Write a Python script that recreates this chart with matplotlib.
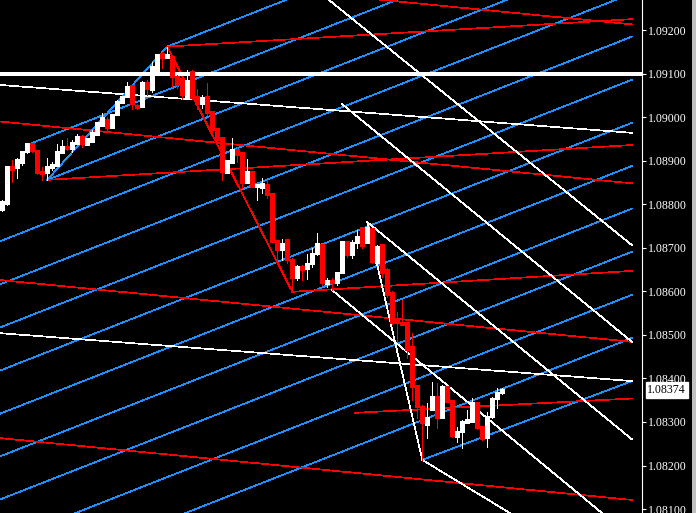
import matplotlib
matplotlib.use("Agg")
import matplotlib.pyplot as plt
import matplotlib.transforms as mtransforms
import numpy as np

# ---- datos de velas (EURUSD, una vela por barra) ----
open_ = [1.08787, 1.08801, 1.08886, 1.08883, 1.08895, 1.08920, 1.08938, 1.08922, 1.08874, 1.08872,
         1.08883, 1.08888, 1.08918, 1.08931, 1.08927, 1.08938, 1.08954, 1.08936, 1.08943, 1.08959,
         1.08980, 1.08993, 1.08975, 1.09005, 1.09032, 1.09046, 1.09072, 1.09026, 1.09023, 1.09078,
         1.09062, 1.09097, 1.09145, 1.09136, 1.09138, 1.09092, 1.09088, 1.09046, 1.09104, 1.09046,
         1.09030, 1.09046, 1.09012, 1.08973, 1.08952, 1.08872, 1.08895, 1.08925, 1.08918, 1.08849,
         1.08874, 1.08840, 1.08837, 1.08844, 1.08824, 1.08716, 1.08695, 1.08718, 1.08672, 1.08631,
         1.08656, 1.08651, 1.08663, 1.08686, 1.08706, 1.08617, 1.08624, 1.08619, 1.08642, 1.08713,
         1.08683, 1.08711, 1.08745, 1.08711, 1.08743, 1.08665, 1.08706, 1.08649, 1.08596, 1.08532,
         1.08527, 1.08527, 1.08472, 1.08383, 1.08334, 1.08293, 1.08328, 1.08357, 1.08309, 1.08380,
         1.08348, 1.08266, 1.08277, 1.08298, 1.08300, 1.08344, 1.08288, 1.08263, 1.08312, 1.08353,
         1.08367]
high = [1.08810, 1.08888, 1.08902, 1.08906, 1.08922, 1.08941, 1.08941, 1.08925, 1.08886, 1.08906,
        1.08897, 1.08938, 1.08947, 1.08952, 1.08947, 1.08961, 1.08959, 1.08952, 1.08971, 1.08989,
        1.09010, 1.09000, 1.09005, 1.09039, 1.09049, 1.09081, 1.09074, 1.09030, 1.09083, 1.09085,
        1.09127, 1.09143, 1.09150, 1.09162, 1.09143, 1.09097, 1.09090, 1.09108, 1.09108, 1.09065,
        1.09051, 1.09078, 1.09012, 1.08975, 1.08954, 1.08902, 1.08952, 1.08931, 1.08918, 1.08904,
        1.08874, 1.08844, 1.08860, 1.08856, 1.08824, 1.08716, 1.08720, 1.08720, 1.08677, 1.08661,
        1.08661, 1.08686, 1.08700, 1.08734, 1.08709, 1.08631, 1.08631, 1.08642, 1.08713, 1.08713,
        1.08718, 1.08741, 1.08748, 1.08759, 1.08743, 1.08706, 1.08706, 1.08654, 1.08601, 1.08553,
        1.08580, 1.08527, 1.08504, 1.08383, 1.08339, 1.08344, 1.08392, 1.08390, 1.08385, 1.08380,
        1.08350, 1.08288, 1.08305, 1.08328, 1.08355, 1.08346, 1.08288, 1.08323, 1.08357, 1.08378,
        1.08377]
low = [1.08784, 1.08798, 1.08851, 1.08860, 1.08890, 1.08918, 1.08920, 1.08869, 1.08856, 1.08856,
       1.08879, 1.08888, 1.08918, 1.08925, 1.08920, 1.08938, 1.08931, 1.08936, 1.08943, 1.08959,
       1.08980, 1.08971, 1.08975, 1.09005, 1.09032, 1.09046, 1.09019, 1.09019, 1.09023, 1.09051,
       1.09058, 1.09097, 1.09113, 1.09136, 1.09069, 1.09067, 1.09042, 1.09046, 1.09042, 1.09019,
       1.09021, 1.09005, 1.08959, 1.08936, 1.08856, 1.08872, 1.08895, 1.08897, 1.08837, 1.08849,
       1.08840, 1.08810, 1.08826, 1.08814, 1.08713, 1.08672, 1.08672, 1.08665, 1.08599, 1.08626,
       1.08626, 1.08628, 1.08656, 1.08683, 1.08615, 1.08610, 1.08603, 1.08615, 1.08642, 1.08679,
       1.08677, 1.08700, 1.08700, 1.08711, 1.08665, 1.08665, 1.08633, 1.08587, 1.08525, 1.08484,
       1.08523, 1.08447, 1.08350, 1.08309, 1.08213, 1.08263, 1.08328, 1.08286, 1.08309, 1.08346,
       1.08266, 1.08254, 1.08240, 1.08298, 1.08300, 1.08284, 1.08259, 1.08243, 1.08309, 1.08332,
       1.08364]
close = [1.08805, 1.08886, 1.08879, 1.08902, 1.08920, 1.08938, 1.08922, 1.08872, 1.08869, 1.08886,
         1.08890, 1.08920, 1.08931, 1.08927, 1.08941, 1.08954, 1.08938, 1.08950, 1.08964, 1.08987,
         1.08998, 1.08975, 1.09005, 1.09035, 1.09046, 1.09069, 1.09030, 1.09021, 1.09078, 1.09065,
         1.09115, 1.09143, 1.09136, 1.09143, 1.09092, 1.09074, 1.09051, 1.09083, 1.09044, 1.09030,
         1.09044, 1.09010, 1.08971, 1.08947, 1.08874, 1.08899, 1.08925, 1.08913, 1.08849, 1.08874,
         1.08840, 1.08844, 1.08847, 1.08821, 1.08713, 1.08695, 1.08709, 1.08672, 1.08631, 1.08656,
         1.08649, 1.08663, 1.08686, 1.08709, 1.08619, 1.08624, 1.08619, 1.08642, 1.08713, 1.08683,
         1.08711, 1.08725, 1.08704, 1.08745, 1.08667, 1.08702, 1.08642, 1.08592, 1.08527, 1.08527,
         1.08523, 1.08465, 1.08380, 1.08334, 1.08298, 1.08309, 1.08357, 1.08309, 1.08380, 1.08346,
         1.08268, 1.08277, 1.08300, 1.08305, 1.08344, 1.08286, 1.08261, 1.08312, 1.08353, 1.08367,
         1.08374]

precio_actual = 1.08374
nivel_horizontal = 1.09100
niveles_eje = [1.081, 1.082, 1.083, 1.084, 1.085, 1.086, 1.087, 1.088, 1.089, 1.090, 1.091, 1.092]

# ---- objetos dibujados: (barra inicio, precio inicio, barra fin, precio fin) ----
lineas_azules = [
    (33, 1.09162, 125.94, 1.09582),
    (6, 1.08941, 125.94, 1.09481),
    (9, 1.08856, 125.94, 1.09382),
    (-0.46, 1.08715, 125.94, 1.09284),
    (-0.46, 1.08616, 125.94, 1.09185),
    (-0.46, 1.08517, 125.94, 1.09086),
    (-0.46, 1.08418, 125.94, 1.08987),
    (-0.46, 1.08319, 125.94, 1.08888),
    (-0.46, 1.08221, 125.94, 1.08790),
    (-0.46, 1.08122, 125.94, 1.08691),
    (-0.46, 1.08023, 125.94, 1.08592),
    (-0.46, 1.07924, 125.94, 1.08493),
    (84, 1.08213, 125.94, 1.08394),
]
lineas_rojas = [
    (-0.46, 1.09355, 125.94, 1.09213),
    (-0.46, 1.08990, 125.94, 1.08848),
    (-0.46, 1.08626, 125.94, 1.08484),
    (-0.46, 1.08263, 125.94, 1.08121),
    (33, 1.09162, 125.94, 1.09225),
    (9, 1.08856, 125.94, 1.08936),
    (58, 1.08599, 125.94, 1.08647),
    (70.5, 1.08321, 125.94, 1.08354),
]
lineas_blancas = [
    (-0.46, 1.09074, 125.94, 1.08964),
    (-0.46, 1.08504, 125.94, 1.08394),
    (65.34, 1.09269, 125.94, 1.08706),
    (67.94, 1.09030, 125.94, 1.08484),
    (73, 1.08759, 125.94, 1.08260),
    (65.94, 1.08603, 125.94, 1.08034),
    (84, 1.08213, 101.5, 1.08091),
]
# zigzag entre pivotes
zigzag = [
    (9, 1.08856, 33, 1.09162, 'azul'),
    (33, 1.09162, 58, 1.08599, 'rojo'),
    (73, 1.08759, 84, 1.08213, 'blanco'),
]

AZUL = '#1E90FF'
ROJO = '#FF0000'
BLANCO = '#FFFFFF'
colores = {'azul': AZUL, 'rojo': ROJO, 'blanco': BLANCO}

fig = plt.figure(figsize=(6.96, 5.13), dpi=100, facecolor='black')
ax = fig.add_axes([0, 0, 642 / 696, 1])
ax.set_facecolor('black')

# borde gris de la ventana a la derecha
fig.patches.append(plt.Rectangle((692 / 696, 0), 4 / 696, 1, transform=fig.transFigure,
                                 facecolor='#c0c0c0', edgecolor='none', zorder=0))

def trazar(lista, color):
    for x0, y0, x1, y1 in lista:
        ax.plot([x0, x1], [y0, y1], color=color, lw=0.5, antialiased=False, zorder=2)

trazar(lineas_azules, AZUL)
trazar(lineas_rojas, ROJO)
trazar(lineas_blancas, BLANCO)
for x0, y0, x1, y1, c in zigzag:
    ax.plot([x0, x1], [y0, y1], color=colores[c], lw=0.5, antialiased=False, zorder=2)

ax.axhline(nivel_horizontal, color=BLANCO, lw=1.5, antialiased=False, zorder=2)

# velas
o = np.array(open_)
h = np.array(high)
l = np.array(low)
c = np.array(close)
x = np.arange(len(o))
sube = c >= o
col = np.where(sube, BLANCO, ROJO)
ax.vlines(x, l, h, colors=col, lw=0.6, antialiased=False, zorder=3)
cuerpo_bajo = np.minimum(o, c)
cuerpo_alto = np.maximum(np.abs(c - o), 0.00001)
ax.bar(x, cuerpo_alto, bottom=cuerpo_bajo, width=0.55, color=col, edgecolor=col,
       linewidth=0.3, antialiased=False, zorder=4)

ax.set_xlim(-0.46, 127.94)
ax.set_ylim(1.08091, 1.09269)
ax.set_xticks([])

# eje de precios a la derecha
for s in ['top', 'bottom', 'left']:
    ax.spines[s].set_visible(False)
ax.spines['right'].set_color(BLANCO)
ax.spines['right'].set_linewidth(0.8)
ax.yaxis.tick_right()
ax.set_yticks(niveles_eje)
ax.set_yticklabels(['%.5f' % v for v in niveles_eje])
ax.tick_params(axis='y', colors=BLANCO, length=3, width=0.8, pad=1.5, labelsize=8.6)
for t in ax.get_yticklabels():
    t.set_family('Liberation Serif')

trans = mtransforms.blended_transform_factory(ax.transAxes, ax.transData)
ax.text(1.0085, precio_actual, '%.5f' % precio_actual, transform=trans, ha='left', va='center',
        color='black', fontsize=8.6, family='Liberation Serif',
        bbox=dict(boxstyle='square,pad=0.15', fc='white', ec='white'), zorder=10)

fig.savefig('out.png', dpi=100, facecolor='black')
